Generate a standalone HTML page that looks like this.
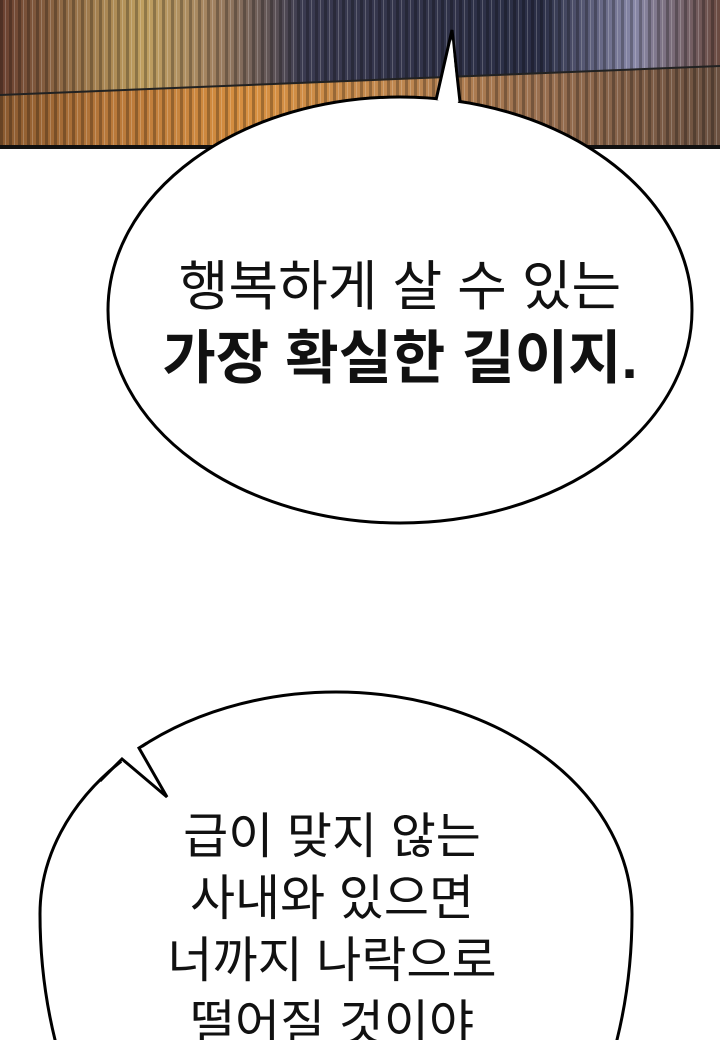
<!DOCTYPE html>
<html><head><meta charset="utf-8"><style>
html,body{margin:0;padding:0;background:#fff;overflow:hidden;}
svg{display:block}
text{font-family:"Liberation Sans","Noto Sans CJK KR",sans-serif;fill:#111;}
</style></head><body>
<svg width="720" height="1040" viewBox="0 0 720 1040" xmlns="http://www.w3.org/2000/svg">
<defs>
<linearGradient id="wood" x1="0" x2="1" y1="0" y2="0">
<stop offset="0" stop-color="#8a5a30"/><stop offset="0.15" stop-color="#b8783a"/>
<stop offset="0.35" stop-color="#d89040"/><stop offset="0.55" stop-color="#c08850"/>
<stop offset="0.75" stop-color="#9a7050"/><stop offset="1" stop-color="#6a5040"/>
</linearGradient>
<linearGradient id="bg" x1="0" x2="1" y1="0" y2="0">
<stop offset="0" stop-color="#6a4030"/><stop offset="0.2" stop-color="#c0a060"/>
<stop offset="0.3" stop-color="#a08060"/><stop offset="0.42" stop-color="#3a3a50"/>
<stop offset="0.75" stop-color="#2a2e45"/><stop offset="0.88" stop-color="#8888a8"/>
<stop offset="1" stop-color="#6a4a40"/>
</linearGradient>
<pattern id="stripes" width="9" height="10" patternUnits="userSpaceOnUse">
<rect width="3" height="10" fill="#000" opacity="0.25"/>
<rect x="5" width="1" height="10" fill="#fff" opacity="0.2"/>
</pattern>
</defs>
<rect x="0" y="0" width="720" height="147" fill="url(#bg)"/>
<polygon points="0,95 720,66 720,147 0,147" fill="url(#wood)"/>
<rect x="0" y="0" width="720" height="147" fill="url(#stripes)"/>
<line x1="0" y1="95" x2="720" y2="66" stroke="#222" stroke-width="2"/>
<rect x="0" y="145" width="720" height="4" fill="#111"/>
<!-- bubble 1 -->
<ellipse cx="400" cy="310" rx="292" ry="213" fill="#fff" stroke="#000" stroke-width="3"/>
<path d="M436,100 L452,30 L460,102" fill="#fff" stroke="#000" stroke-width="3"/>
<path d="M438,103 L452,40 L458,104 Z" fill="#fff"/>
<text x="400" y="305" font-size="54" text-anchor="middle">행복하게 살 수 있는</text>
<text x="400" y="378" font-size="58" font-weight="bold" text-anchor="middle">가장 확실한 길이지.</text>
<!-- bubble 2 -->
<path d="M40,914 A296 222 0 0 1 632,914 A296 400 0 0 1 40,914 Z" fill="#fff" stroke="#000" stroke-width="3"/>
<polygon points="116,757 124,749 140,740 144,752 160,790 124,764" fill="#fff"/>
<path d="M100,781 L122,759 L167,797 L139,748 L147,743" fill="none" stroke="#000" stroke-width="3" stroke-linejoin="miter"/>
<text x="332" y="853" font-size="49" text-anchor="middle">급이 맞지 않는</text>
<text x="332" y="915" font-size="49" text-anchor="middle">사내와 있으면</text>
<text x="332" y="977" font-size="49" text-anchor="middle">너까지 나락으로</text>
<text x="332" y="1040" font-size="49" text-anchor="middle">떨어질 것이야</text>
</svg>
</body></html>
